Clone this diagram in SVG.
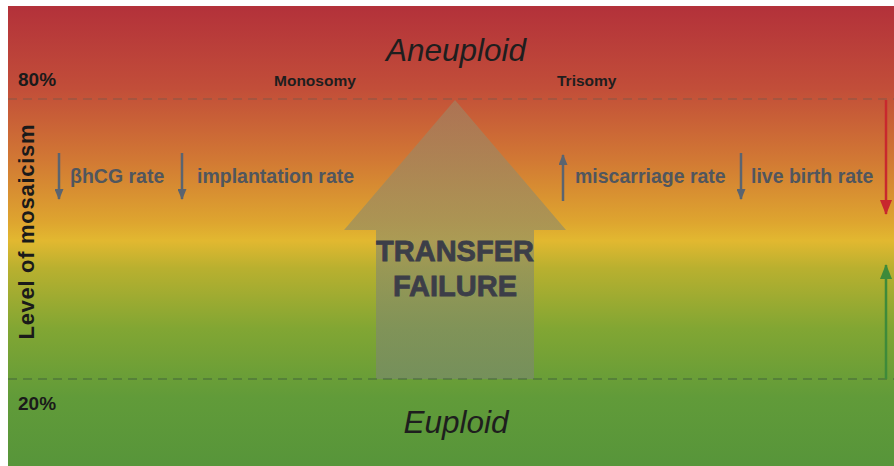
<svg xmlns="http://www.w3.org/2000/svg" width="894" height="466" viewBox="0 0 894 466">
<defs>
<linearGradient id="bg" x1="0" y1="0" x2="0" y2="1">
<stop offset="0" stop-color="#b3313a"/>
<stop offset="0.18" stop-color="#c24e39"/>
<stop offset="0.33" stop-color="#d17734"/>
<stop offset="0.47" stop-color="#dea52f"/>
<stop offset="0.51" stop-color="#e2b830"/>
<stop offset="0.57" stop-color="#b9b02f"/>
<stop offset="0.70" stop-color="#82a633"/>
<stop offset="0.85" stop-color="#619b39"/>
<stop offset="1" stop-color="#57953a"/>
</linearGradient>
<linearGradient id="arr" x1="0" y1="0" x2="0" y2="1">
<stop offset="0" stop-color="#9a8a6a" stop-opacity="0.55"/>
<stop offset="1" stop-color="#7a8a6a" stop-opacity="0.7"/>
</linearGradient>
<marker id="gh" markerWidth="11" markerHeight="9" refX="10" refY="4.5" orient="auto" markerUnits="userSpaceOnUse" viewBox="0 0 11 9"><path d="M0,0 L11,4.5 L0,9 z" fill="#5a6470"/></marker>
<marker id="rh" markerWidth="15" markerHeight="12" refX="14" refY="6" orient="auto" markerUnits="userSpaceOnUse" viewBox="0 0 15 12"><path d="M0,0 L15,6 L0,12 z" fill="#c8282e"/></marker>
<marker id="grh" markerWidth="15" markerHeight="12" refX="14" refY="6" orient="auto" markerUnits="userSpaceOnUse" viewBox="0 0 15 12"><path d="M0,0 L15,6 L0,12 z" fill="#3e8a3a"/></marker>
</defs>
<style>
.lbl{font-family:"Liberation Sans",Arial,sans-serif;font-weight:bold;fill:#50565e;font-size:19.5px}
.sm{font-family:"Liberation Sans",Arial,sans-serif;font-weight:bold;fill:#1e1e1e;font-size:15.5px}
.pct{font-family:"Liberation Sans",Arial,sans-serif;font-weight:bold;fill:#1a1a1a;font-size:19px}
.ax{font-family:"Liberation Sans",Arial,sans-serif;font-weight:bold;fill:#1a1a1a;font-size:22px}
.big{font-family:"Liberation Sans",Arial,sans-serif;font-style:italic;fill:#1e1e1e;font-size:31.5px}
.tf{font-family:"Liberation Sans",Arial,sans-serif;font-weight:bold;fill:#3c3e48;stroke:#3c3e48;stroke-width:0.8;font-size:29px}
.dash{stroke:#7a5a4a;stroke-opacity:0.55;stroke-width:1.5;stroke-dasharray:9,6}
.ga{stroke:#5a6470;stroke-width:2.5;fill:none;marker-end:url(#gh)}
</style>
<rect x="0" y="0" width="894" height="466" fill="#ffffff"/>
<rect x="8" y="6" width="886" height="460" fill="url(#bg)"/>
<g id="transfer-failure">
<path d="M455,100 L566,230 L534,230 L534,379 L376,379 L376,230 L344,230 Z" fill="url(#arr)"/>
<text class="tf" x="455" y="261" text-anchor="middle">TRANSFER</text>
<text class="tf" x="455" y="296" text-anchor="middle">FAILURE</text>
</g>
<g id="thresholds">
<line class="dash" x1="8" y1="99" x2="894" y2="99"/>
<line class="dash" x1="8" y1="379" x2="894" y2="379" style="stroke:#3a5a3a"/>
<text class="pct" x="18" y="86">80%</text>
<text class="pct" x="18" y="410">20%</text>
</g>
<g id="aneuploid"><text class="big" x="456" y="61" text-anchor="middle">Aneuploid</text></g>
<g id="euploid"><text class="big" x="456" y="433" text-anchor="middle">Euploid</text></g>
<g id="monosomy"><text class="sm" x="274" y="86">Monosomy</text></g>
<g id="trisomy"><text class="sm" x="557" y="86">Trisomy</text></g>
<g id="axis"><text class="ax" transform="translate(34,232) rotate(-90)" text-anchor="middle" textLength="215" lengthAdjust="spacing">Level of mosaicism</text></g>
<g id="hcg"><text class="lbl" x="70" y="183">βhCG rate</text></g>
<g id="implantation"><text class="lbl" x="197" y="183">implantation rate</text></g>
<g id="miscarriage"><text class="lbl" x="575" y="183">miscarriage rate</text></g>
<g id="livebirth"><text class="lbl" x="751" y="183">live birth rate</text></g>
<g id="connectors">
<line class="ga" x1="59" y1="153" x2="59" y2="199"/>
<line class="ga" x1="182" y1="153" x2="182" y2="199"/>
<line class="ga" x1="563" y1="201" x2="563" y2="155"/>
<line class="ga" x1="741" y1="153" x2="741" y2="199"/>
<line x1="886" y1="100" x2="886" y2="214" stroke="#c8282e" stroke-width="2.5" marker-end="url(#rh)"/>
<line x1="886" y1="379" x2="886" y2="265" stroke="#3e8a3a" stroke-width="2.5" marker-end="url(#grh)"/>
</g>
</svg>
